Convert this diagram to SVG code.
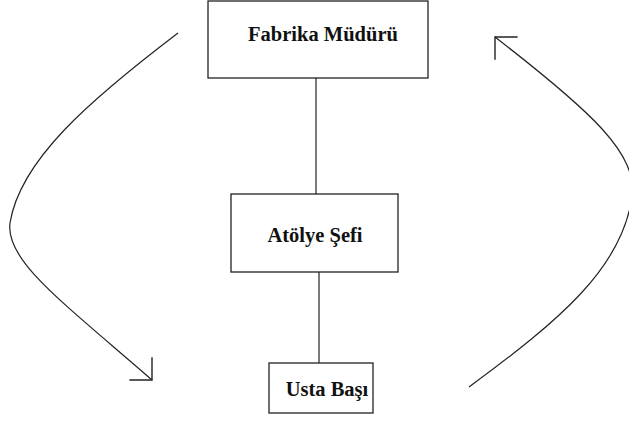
<svg xmlns="http://www.w3.org/2000/svg" width="629" height="421" viewBox="0 0 629 421">
  <style>
    .box { fill: #ffffff; stroke: #222222; stroke-width: 1.3; }
    .label { font-family: "Times New Roman", Tinos, "Liberation Serif", serif; font-weight: bold; font-size: 20.5px; fill: #111111; text-anchor: middle; }
    .link { fill: none; stroke: #222222; stroke-width: 1.2; }
  </style>
  <defs>
    <marker id="headDown" markerUnits="userSpaceOnUse" markerWidth="40" markerHeight="40" refX="0" refY="0" orient="45" style="overflow:visible">
      <path d="M-16,-16 L0,0 L-16,16" fill="none" stroke="#222222" stroke-width="1.4"/>
    </marker>
    <marker id="headUp" markerUnits="userSpaceOnUse" markerWidth="40" markerHeight="40" refX="0" refY="0" orient="225" style="overflow:visible">
      <path d="M-16,-16 L0,0 L-16,16" fill="none" stroke="#222222" stroke-width="1.4"/>
    </marker>
  </defs>
  <rect width="629" height="421" fill="#ffffff"/>

  <g id="connectors">
    <line class="link" x1="316" y1="78" x2="316" y2="194"/>
    <line class="link" x1="319" y1="272" x2="319" y2="363"/>
    <path class="link" d="M178,33 C90,100 20,160 10,223 C5,260 60,300 152,380" marker-end="url(#headDown)"/>
    <path class="link" d="M469,387 C560,320 622,268 632,197 C638,154 592,112 495,37" marker-end="url(#headUp)"/>
  </g>

  <g id="fabrika-muduru">
    <rect class="box" x="208" y="1" width="220" height="77"/>
    <text class="label" x="323" y="41">Fabrika Müdürü</text>
  </g>

  <g id="atolye-sefi">
    <rect class="box" x="231" y="194" width="167" height="78"/>
    <text class="label" x="315" y="242">Atölye Şefi</text>
  </g>

  <g id="usta-basi">
    <rect class="box" x="269" y="363" width="104" height="50"/>
    <text class="label" x="327" y="396">Usta Başı</text>
  </g>
</svg>
